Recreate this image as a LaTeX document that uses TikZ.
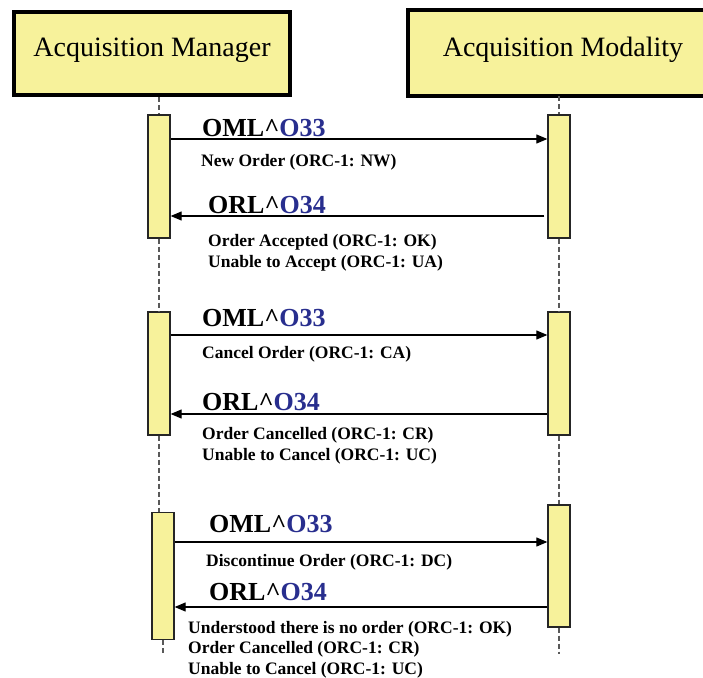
\documentclass[tikz,border=0pt]{standalone}
\usepackage{fontspec}
\setmainfont{Liberation Serif}
\usetikzlibrary{arrows.meta}
\definecolor{paleyellow}{RGB}{247,242,155}
\definecolor{segblue}{RGB}{40,46,142}
\newcommand{\hlmsg}[2]{#1\textasciicircum\textcolor{segblue}{#2}}
\begin{document}
\begin{tikzpicture}[x=1pt, y=1pt, >={Triangle[length=11pt,width=9pt]}]
    \tikzstyle{actor} = [rectangle, draw=black, line width=4pt, fill=paleyellow, inner sep=0pt, text depth=12pt, font=\fontsize{28}{32}\selectfont]
    \tikzstyle{frameline} = [line width=4pt, line cap=rect]
    \tikzstyle{activation} = [rectangle, draw=black!85, line width=1.3pt, fill=paleyellow, inner sep=0pt, minimum width=22pt]
    \tikzstyle{lifeline} = [draw=black!65, line width=1.6pt, dash pattern=on 5pt off 3pt]
    \tikzstyle{msg} = [->, line width=1.1pt]
    \tikzstyle{msgname} = [anchor=base west, inner sep=0pt, font=\bfseries\fontsize{26}{30}\selectfont]
    \tikzstyle{msgnote} = [anchor=base west, inner sep=0pt, font=\bfseries\fontsize{17.5}{20}\selectfont]

    \useasboundingbox (0,0) rectangle (703,-677);
    \clip (0,0) rectangle (703,-677);

    % Actors
    \node [actor, minimum width=276pt, minimum height=83pt] (manager) at (152,-53.5) {Acquisition Manager};
    \node [actor, draw=none, minimum width=306pt, minimum height=82pt] (modality) at (563,-53) {Acquisition Modality};
    \draw [frameline] (modality.north west) -- (modality.north east);
    \draw [frameline] (modality.north west) -- (modality.south west);
    \draw [frameline] (modality.south west) -- (modality.south east);

    % Activations
    \node [activation, minimum height=123pt] (mgr1) at (159,-176.5) {};
    \node [activation, minimum height=123pt] (mod1) at (559,-176.5) {};
    \node [activation, minimum height=123pt] (mgr2) at (159,-373.5) {};
    \node [activation, minimum height=123pt] (mod2) at (559,-373.5) {};
    \node [activation, minimum height=127pt] (mgr3) at (163,-576) {};
    \node [activation, minimum height=122pt] (mod3) at (559,-566) {};

    % Lifelines
    \draw [lifeline] (manager.south -| mgr1) -- (mgr1.north);
    \draw [lifeline] (mgr1.south) -- (mgr2.north);
    \draw [lifeline] (mgr2.south) -- (mgr2.south |- mgr3.north);
    \draw [lifeline] (mgr3.south) -- ++(0,-14);
    \draw [lifeline] (modality.south -| mod1) -- (mod1.north);
    \draw [lifeline] (mod1.south) -- (mod2.north);
    \draw [lifeline] (mod2.south) -- (mod3.north);
    \draw [lifeline] (mod3.south) -- ++(0,-26);

    % Message levels
    \coordinate (lv1) at (0,-139);
    \coordinate (lv2) at (0,-216);
    \coordinate (lv3) at (0,-335);
    \coordinate (lv4) at (0,-414);
    \coordinate (lv5) at (0,-542);
    \coordinate (lv6) at (0,-607);

    % Connections
    \draw [msg] (mgr1.east |- lv1) -- (mod1.west |- lv1);
    \draw [msg] (mod1.west |- lv2) ++(-3,0) -- (mgr1.east |- lv2);
    \draw [msg] (mgr2.east |- lv3) -- (mod2.west |- lv3);
    \draw [msg] (mod2.west |- lv4) -- (mgr2.east |- lv4);
    \draw [msg] (mgr3.east |- lv5) -- (mod3.west |- lv5);
    \draw [msg] (mod3.west |- lv6) -- (mgr3.east |- lv6);

    % New order
    \node [msgname] (oml1) at (202,-136) {\hlmsg{OML}{O33}};
    \node [msgnote] (new) at (201,-166) {New Order (ORC-1: NW)};
    \node [msgname] (orl1) at (208,-213) {\hlmsg{ORL}{O34}};
    \node [msgnote] (accepted) at (208,-246) {Order Accepted (ORC-1: OK)};
    \node [msgnote] (noaccept) at (208,-267) {Unable to Accept (ORC-1: UA)};

    % Cancel
    \node [msgname] (oml2) at (202,-326) {\hlmsg{OML}{O33}};
    \node [msgnote] (cancel) at (202,-358) {Cancel Order (ORC-1: CA)};
    \node [msgname] (orl2) at (202,-410) {\hlmsg{ORL}{O34}};
    \node [msgnote] (cancelled) at (202,-439) {Order Cancelled (ORC-1: CR)};
    \node [msgnote] (nocancel) at (202,-460) {Unable to Cancel (ORC-1: UC)};

    % Discontinue
    \node [msgname] (oml3) at (209,-532) {\hlmsg{OML}{O33}};
    \node [msgnote] (discont) at (206,-566) {Discontinue Order (ORC-1: DC)};
    \node [msgname] (orl3) at (209,-600) {\hlmsg{ORL}{O34}};
    \node [msgnote] (noorder) at (188,-633) {Understood there is no order (ORC-1: OK)};
    \node [msgnote] (dcancelled) at (188,-653) {Order Cancelled (ORC-1: CR)};
    \node [msgnote] (dnocancel) at (188,-674) {Unable to Cancel (ORC-1: UC)};
\end{tikzpicture}
\end{document}
